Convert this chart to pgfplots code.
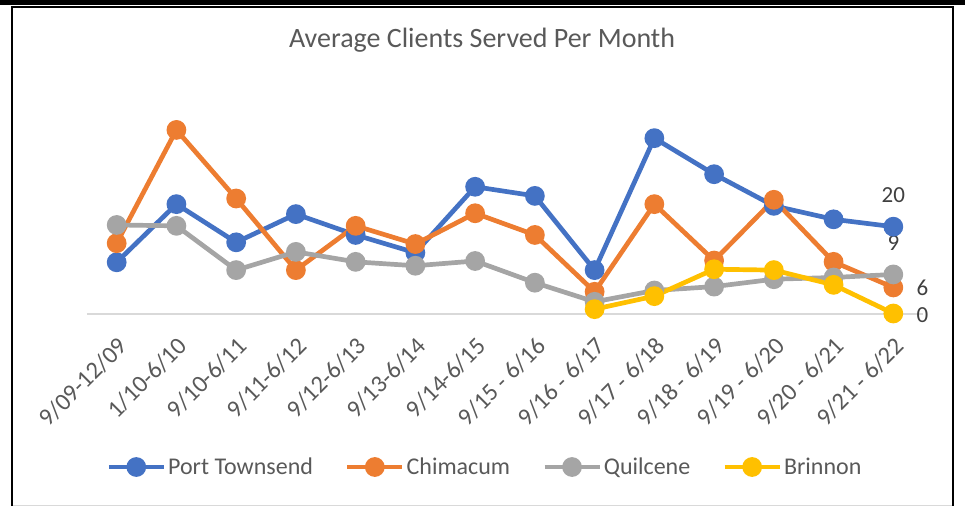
\documentclass[border=0pt]{standalone}
\usepackage{pgfplots}
\pgfplotsset{compat=1.18}
\usepackage{fontspec}
\setmainfont{Carlito}
\definecolor{ptblue}{HTML}{4472C4}
\definecolor{chorange}{HTML}{ED7D31}
\definecolor{qugray}{HTML}{A5A5A5}
\definecolor{bryellow}{HTML}{FFC000}
\definecolor{axisgray}{HTML}{D9D9D9}
\definecolor{titlegray}{HTML}{595959}
\definecolor{labelgray}{HTML}{595959}
\definecolor{datagray}{HTML}{404040}
\begin{document}
\begin{tikzpicture}
\path[use as bounding box] (0pt,0pt) rectangle (965pt,506pt);
\fill[black] (0pt,501pt) rectangle (965pt,506pt);
\draw[axisgray,line width=1.2pt] (13pt,0.7pt) -- (952pt,0.7pt);
\draw[black,line width=2pt] (12pt,0pt) -- (12pt,498.5pt) -- (953pt,498.5pt) -- (953pt,0pt);
\begin{axis}[
  at={(86.8pt,192.5pt)}, anchor=south west,
  scale only axis, width=836.4pt, height=195.3pt,
  xmin=-0.5, xmax=13.5, ymin=0, ymax=45,
  clip=false,
  axis y line=none, axis x line=bottom,
  x axis line style={draw=axisgray, line width=2pt, -},
  xtick={0,...,13},
  xticklabels={9/09-12/09,1/10-6/10,9/10-6/11,9/11-6/12,9/12-6/13,9/13-6/14,9/14-6/15,9/15 - 6/16,9/16 - 6/17,9/17 - 6/18,9/18 - 6/19,9/19 - 6/20,9/20 - 6/21,9/21 - 6/22},
  xtick style={draw=none}, major tick length=0pt,
  xticklabel style={xshift=0pt, yshift=-22pt, rotate=45, anchor=north east, inner sep=0pt, font=\fontsize{24.5}{26}\selectfont, text=labelgray},
  title={Average Clients Served Per Month},
  title style={at={(0.4725,1.37)}, anchor=center, font=\fontsize{28}{30}\selectfont, text=titlegray},
  legend columns=4,
  legend style={at={(0.476,-0.786)}, anchor=center, draw=none, fill=none, font=\fontsize{24}{26}\selectfont, text=labelgray, inner sep=0pt, nodes={inner xsep=2pt}, /tikz/every even column/.append style={column sep=30pt}},
  legend image code/.code={\draw[mark repeat=2,mark phase=2,#1] plot coordinates {(0pt,0pt) (27.5pt,0pt) (55pt,0pt)};},
  every axis plot/.append style={line width=4.7pt, mark=*, mark size=7.5pt},
]
\addplot[ptblue, mark options={draw=none, fill=ptblue}] coordinates {
(0,11.8) (1,25.2) (2,16.4) (3,22.9) (4,18.1) (5,14.0) (6,29.2) (7,27.1) (8,10.0) (9,40.4) (10,32.1) (11,24.8) (12,21.7) (13,20)};
\addlegendentry{Port Townsend}
\addplot[chorange, mark options={draw=none, fill=chorange}] coordinates {
(0,16.2) (1,42.3) (2,26.5) (3,10.0) (4,20.2) (5,16.0) (6,23.1) (7,18.1) (8,5.0) (9,25.2) (10,12.2) (11,26.2) (12,11.9) (13,6)};
\addlegendentry{Chimacum}
\addplot[qugray, mark options={draw=none, fill=qugray}] coordinates {
(0,20.4) (1,20.2) (2,10.0) (3,14.2) (4,11.9) (5,11.0) (6,12.1) (7,7.1) (8,2.7) (9,5.3) (10,6.2) (11,7.9) (12,8.3) (13,9)};
\addlegendentry{Quilcene}
\addplot[bryellow, mark options={draw=none, fill=bryellow}] coordinates {
(8,1.0) (9,4.0) (10,10.2) (11,10.0) (12,6.6) (13,0)};
\addlegendentry{Brinnon}
\node[text=datagray, font=\fontsize{23}{25}\selectfont, yshift=32pt] at (axis cs:13,20) {20};
\node[text=datagray, font=\fontsize{23}{25}\selectfont, yshift=31pt] at (axis cs:13,9) {9};
\node[text=datagray, font=\fontsize{23}{25}\selectfont, xshift=29pt] at (axis cs:13,6) {6};
\node[text=datagray, font=\fontsize{23}{25}\selectfont, xshift=29pt, yshift=-1.5pt] at (axis cs:13,0) {0};
\end{axis}
\end{tikzpicture}
\end{document}
